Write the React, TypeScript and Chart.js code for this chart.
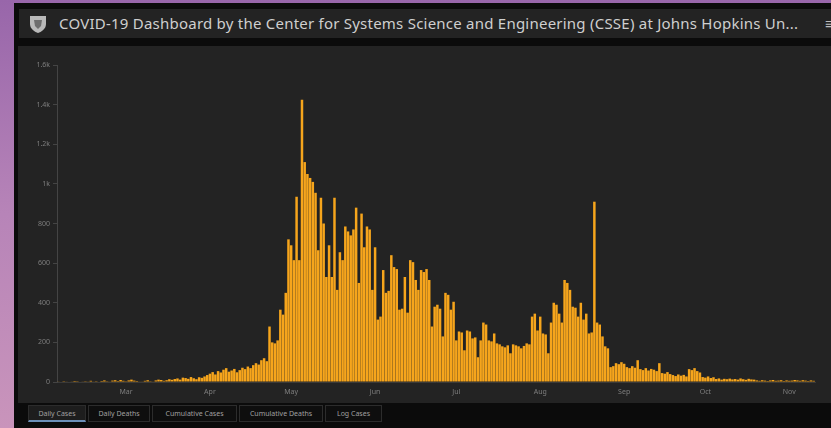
import React, { useEffect, useRef } from "react";
import { Chart, registerables } from "chart.js";

Chart.register(...registerables);

const TITLE =
  "COVID-19 Dashboard by the Center for Systems Science and Engineering (CSSE) at Johns Hopkins Un...";

const startDate = "2020-02-05";

const monthLabels = ["Jan", "Feb", "Mar", "Apr", "May", "Jun", "Jul", "Aug", "Sep", "Oct", "Nov", "Dec"];

const yTickValues = [0, 200, 400, 600, 800, 1000, 1200, 1400, 1600];

const tabLabels = ["Daily Cases", "Daily Deaths", "Cumulative Cases", "Cumulative Deaths", "Log Cases"];

const dailyCases: number[] = [
  // early, near zero
  2, 0, 1, 3, 0, 2, 5, 1, 0, 3, 4, 2, 6, 3, 1, 0, 5, 8, 4, 3, 7, 9, 5, 10, 6, 4, 8, 12, 7, 5, 3, 2, 6, 9, 4, 3, 8, 12, 10,
  6, 9, 14, 11,
  15, 18, 12, 22, 20, 16, 25, 19, 14, 24, 21, 28,
  35, 42, 50, 38, 55, 48, 62, 70, 52, 58, 66, 49,
  60, 72, 65, 78, 70, 85, 95, 88,
  // first wave
  110, 120, 105, 280, 200, 195, 210, 365, 340, 450, 720, 690, 615, 935, 615,
  1425, 1110, 1050, 1030, 1010, 955, 665, 930, 800, 530, 690, 530, 930, 465, 655,
  615, 785, 760, 740, 770, 880, 500, 850, 680, 785, 770, 465, 680, 315, 330,
  565, 450, 460, 640, 580, 570, 365, 370, 530, 350, 615, 605, 515, 465, 565,
  555, 570, 515, 280, 380, 390, 370, 230, 450, 440, 365, 405, 210, 255, 250,
  160, 260, 255, 220, 225, 125, 210, 300, 290, 210, 205, 245, 195, 190, 180,
  175, 185, 145, 190, 185, 180, 170, 182, 195, 190, 330, 345, 260, 330, 245,
  // second wave
  240, 145, 300, 400, 390, 345, 300, 515, 500, 465, 380, 375, 330, 400, 315,
  345, 245, 250, 910, 300, 290, 230, 180, 170, 75, 80, 95, 90, 100, 92,
  75, 70, 80, 72, 110, 65, 60, 70, 58, 66, 62, 55, 95, 45, 42,
  50, 40, 35, 30, 38, 32, 36, 28, 65, 60, 70, 55, 48, 25, 22,
  28, 20, 24, 15, 18, 12, 16, 14, 17, 13, 15, 12, 18, 14, 11, 16, 13, 12,
  8, 6, 9, 7, 5, 8, 10, 6, 7, 9, 5, 8, 6, 7, 10, 8, 6, 9, 7, 5, 8, 6,
];

function buildCategories(): string[] {
  const out: string[] = [];
  const d = new Date(startDate + "T00:00:00Z");
  for (let i = 0; i < dailyCases.length; i++) {
    out.push(d.toISOString().slice(0, 10));
    d.setUTCDate(d.getUTCDate() + 1);
  }
  return out;
}

const categories = buildCategories();

function fmtY(v: number): string {
  if (v >= 1000) return v / 1000 + "k";
  return String(v);
}

function CovidChart() {
  const ref = useRef<HTMLCanvasElement | null>(null);
  useEffect(() => {
    if (!ref.current) return;
    const chart = new Chart(ref.current, {
      type: "bar",
      data: {
        labels: categories,
        datasets: [
          {
            data: dailyCases,
            backgroundColor: "#f6a51c",
            borderWidth: 0,
            barPercentage: 0.92,
            categoryPercentage: 1,
          },
        ],
      },
      options: {
        animation: false,
        responsive: true,
        maintainAspectRatio: false,
        layout: { padding: { top: 19, right: 16, left: 0, bottom: 0 } },
        plugins: { legend: { display: false }, tooltip: { enabled: false } },
        scales: {
          x: {
            grid: { display: false, drawTicks: false },
            border: { display: true, color: "#3a3a3a" },
            ticks: {
              autoSkip: false,
              maxRotation: 0,
              minRotation: 0,
              padding: 6,
              color: "#7e7e7e",
              font: { size: 7, family: "'Noto Sans', sans-serif" },
              callback: (_v: any, idx: number) => {
                const c = categories[idx];
                if (c && c.endsWith("-01")) return monthLabels[parseInt(c.slice(5, 7), 10) - 1];
                return null;
              },
            },
            afterFit: (s: any) => {
              s.height = 21;
            },
          },
          y: {
            min: 0,
            max: 1600,
            afterBuildTicks: (s: any) => {
              s.ticks = yTickValues.map((v) => ({ value: v }));
            },
            grid: { display: true, drawOnChartArea: false, drawTicks: true, tickLength: 4, color: "#444444" },
            border: { display: true, color: "#444444" },
            ticks: {
              padding: 3,
              color: "#7e7e7e",
              font: { size: 7, family: "'Noto Sans', sans-serif" },
              callback: (v: any) => fmtY(Number(v)),
            },
            afterFit: (s: any) => {
              s.width = 39;
            },
          },
        },
      },
    });
    return () => chart.destroy();
  }, []);
  return <canvas ref={ref} />;
}

export default function App() {
  const tabX = [28, 88, 152, 239, 325];
  const tabW = [58, 62, 85, 84, 57];
  return (
    <div
      style={{
        position: "fixed",
        inset: 0,
        background: "linear-gradient(180deg, #9866aa 0%, #b784b8 50%, #c994bb 100%)",
        fontFamily: "'Noto Sans', sans-serif",
        overflow: "hidden",
      }}
    >
      <div style={{ position: "absolute", left: 14, top: 3, right: 0, bottom: 0, background: "#0b0b0b" }} />
      {/* header */}
      <div
        style={{
          position: "absolute",
          left: 19,
          top: 9,
          width: 812,
          height: 29,
          background: "#232323",
        }}
      >
        <svg
          width="18"
          height="20"
          viewBox="0 0 18 20"
          style={{ position: "absolute", left: 10, top: 5 }}
        >
          <path d="M1 2 L17 2 L17 10 C17 15 12 18 9 19 C6 18 1 15 1 10 Z" fill="#b9b9b9" />
          <path d="M5 6 L13 6 L12 12 L9 15 L6 12 Z" fill="#6d6d6d" />
        </svg>
        <div
          style={{
            position: "absolute",
            left: 40,
            top: 0,
            height: 29,
            lineHeight: "29px",
            fontSize: 15,
            color: "#cfcfcf",
            whiteSpace: "nowrap",
            letterSpacing: 0.23,
          }}
        >
          {TITLE}
        </div>
        <div
          style={{
            position: "absolute",
            left: 806,
            top: 0,
            height: 29,
            lineHeight: "29px",
            fontSize: 15,
            color: "#bdbdbd",
          }}
        >
          ≡
        </div>
      </div>
      {/* chart panel */}
      <div
        style={{
          position: "absolute",
          left: 18,
          top: 46,
          width: 813,
          height: 357,
          background: "#232323",
        }}
      >
        <div style={{ position: "relative", width: 813, height: 357 }}>
          <CovidChart />
        </div>
      </div>
      {/* tabs */}
      {tabLabels.map((t, i) => (
        <div
          key={t}
          style={{
            position: "absolute",
            left: tabX[i],
            top: 405,
            width: tabW[i],
            height: 17,
            boxSizing: "border-box",
            border: "1px solid #2c2c2c",
            borderBottom: i === 0 ? "2px solid #6c8fb8" : "1px solid #2c2c2c",
            background: i === 0 ? "#1d1d1d" : "#0e0e0e",
            color: "#a0a0a0",
            fontSize: 7,
            lineHeight: "15px",
            textAlign: "center",
            whiteSpace: "nowrap",
          }}
        >
          {t}
        </div>
      ))}
    </div>
  );
}
